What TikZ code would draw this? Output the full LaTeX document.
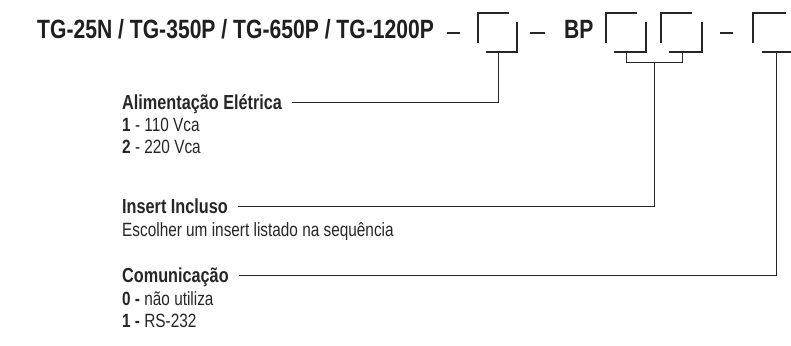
\documentclass[tikz,border=0pt]{standalone}
\usepackage{fontspec}
\setmainfont{Liberation Sans}
\newfontfamily\condfont[FakeStretch=0.80]{Liberation Sans}
\begin{document}
\begin{tikzpicture}[x=1pt,y=-1pt,
  txt/.style={inner sep=0pt,anchor=base west,font=\condfont\fontsize{19.2}{21}\selectfont,text=black!85},
  hdr/.style={txt,font=\condfont\bfseries\fontsize{20.3}{22}\selectfont},
  ttl/.style={inner sep=0pt,anchor=base west,font=\condfont\bfseries\fontsize{26.4}{28}\selectfont,text=black!88},
  boxline/.style={line width=1.7pt,draw=black!85},
  dashline/.style={line width=1.3pt,draw=black!85},
  conn/.style={line width=1pt,draw=black!85}]
\useasboundingbox (0,0) rectangle (791,345);
% title
\node[ttl] (title) at (37,38) {TG-25N / TG-350P / TG-650P / TG-1200P};
\node[ttl] (bp) at (564,38) {BP};
% dashes
\draw[dashline] (447,33) -- (460,33);
\draw[dashline] (530,33) -- (545,33);
\draw[dashline] (720,33) -- (733,33);
% box 1
\coordinate (b1) at (498,52);
\draw[boxline] (478,43) -- (478,13) -- (509,13);
\draw[boxline] (486,52) -- (517,52) -- (517,22);
% box 2 and 3
\draw[boxline] (606,43) -- (606,13) -- (637,13);
\draw[boxline] (614,52) -- (646,52) -- (646,22);
\draw[boxline] (661,43) -- (661,13) -- (692,13);
\draw[boxline] (669,52) -- (702,52) -- (702,22);
\coordinate (b2) at (626,52);
\coordinate (b3) at (682,52);
\coordinate (b23) at (654,62);
\draw[conn] (b2) -- (626,62) -- (682,62) -- (b3);
% box 4
\draw[boxline] (753,43) -- (753,13) -- (786,13);
\draw[boxline] (762,52) -- (791,52);
\coordinate (b4) at (776,52);
% texts
\node[hdr] (alim) at (122,109) {Alimentação Elétrica};
\node[txt] (a1) at (122,131) {\textbf{1} - 110 Vca};
\node[txt] (a2) at (122,153) {\textbf{2} - 220 Vca};
\node[hdr] (ins) at (122,213) {Insert Incluso};
\node[txt] (ins1) at (122,236) {Escolher um insert listado na sequência};
\node[hdr] (com) at (122,282) {Comunicação};
\node[txt] (c0) at (122,305) {\textbf{0 -} não utiliza};
\node[txt] (c1) at (122,327) {\textbf{1 -} RS-232};
% connectors
\coordinate (alimend) at ([xshift=10pt]alim.base east);
\coordinate (insend) at ([xshift=10pt]ins.base east);
\coordinate (comend) at ([xshift=10pt]com.base east);
\draw[conn] (b1) |- (alimend |- 0,102.5);
\draw[conn] (b23) |- (insend |- 0,206.5);
\draw[conn] (b4) |- (comend |- 0,275);
\end{tikzpicture}
\end{document}
